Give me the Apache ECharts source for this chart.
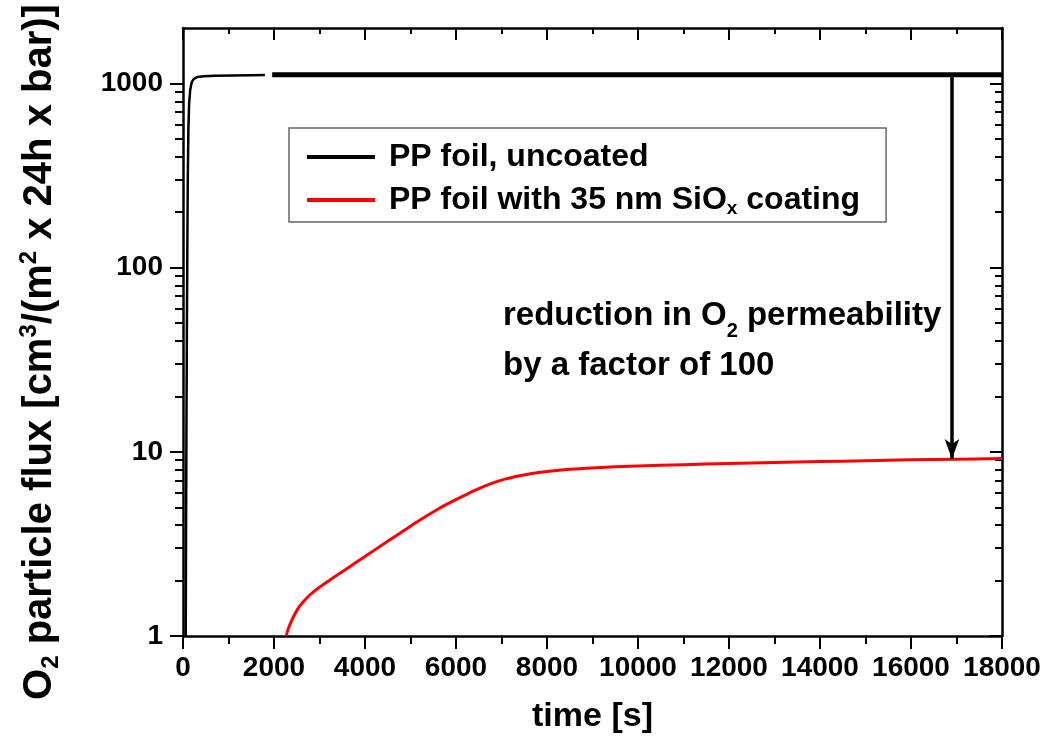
<!DOCTYPE html>
<html><head><meta charset="utf-8">
<script src="https://cdn.jsdelivr.net/npm/echarts@6/dist/echarts.min.js"></script>
<style>html,body{margin:0;padding:0;background:#fff}#c{width:1048px;height:746px}</style>
</head><body><div id="c"></div>
<script>
// ---- data ----
const xRange = [0, 18000];
const xStep = 2000;
const yRange = [1, 2000];
const yMajorTicks = [1, 10, 100, 1000];
const yMinorTicks = [2,3,4,5,6,7,8,9,20,30,40,50,60,70,80,90,200,300,400,500,600,700,800,900];
const seriesNames = ['PP foil, uncoated', 'PP foil with 35 nm SiOx coating'];
const uncoatedStart = [[60,1.0],[66,3],[75,12],[85,45],[95,120],[105,300],[118,560],[135,780],[160,930],[195,1020],[240,1060],[320,1085],[450,1095],[700,1100],[1100,1105],[1500,1108],[1800,1110]];
const uncoatedMain = [[1960,1115],[6000,1116],[10000,1116],[14000,1116],[18000,1116]];
const coated = [[2270,1.0],[2300,1.07],[2330,1.12],[2420,1.26],[2520,1.40],[2640,1.53],[2800,1.68],[3000,1.84],[3300,2.07],[3600,2.32],[4000,2.70],[4400,3.15],[4800,3.66],[5200,4.25],[5600,4.88],[5900,5.35],[6200,5.82],[6500,6.31],[6800,6.76],[7100,7.13],[7400,7.41],[7700,7.64],[8000,7.82],[8500,8.04],[9000,8.18],[10000,8.38],[11000,8.52],[12000,8.64],[13000,8.75],[14000,8.85],[15000,8.95],[16000,9.05],[17000,9.12],[18000,9.2]];
const arrowX = 16900, arrowFrom = 1105, arrowTo = 9.15;
const annotation = 'reduction in O{sub|2} permeability\nby a factor of 100';
const yTitle = 'O{sub|2} particle flux [cm{sup|3}/(m{sup|2} x 24h x bar)]';
const xTitle = 'time [s]';

// ---- chart ----
const FF = '"Liberation Sans", Arial, sans-serif';
const black = '#000';
const red = '#ff0000';
const chart = echarts.init(document.getElementById('c'), null, {renderer: 'canvas'});
const lbl = {color: black, fontFamily: FF, fontWeight: 'bold', fontSize: 28};
const axLine = {show: true, lineStyle: {color: black, width: 2.5}};
function xAx(pos) {
  const bottom = pos === 'bottom';
  return {
    type: 'value', position: pos, min: xRange[0], max: xRange[1], interval: xStep,
    axisLine: axLine,
    axisTick: {show: true, inside: !bottom, length: bottom ? 13 : 12, lineStyle: {color: black, width: 2}},
    minorTick: {show: true, splitNumber: 2, length: bottom ? 8 : 6, lineStyle: {color: black, width: 2}},
    axisLabel: bottom ? Object.assign({margin: 18, formatter: v => String(v)}, lbl) : {show: false},
    splitLine: {show: false}, minorSplitLine: {show: false},
    name: bottom ? xTitle : '', nameLocation: 'middle', nameGap: 64,
    nameTextStyle: {color: black, fontFamily: FF, fontWeight: 'bold', fontSize: 34}
  };
}
function yAx(pos, major) {
  const left = pos === 'left';
  return {
    type: 'log', logBase: 10, position: pos, min: yRange[0], max: yRange[1],
    axisLine: major ? axLine : {show: false},
    axisTick: {show: true, inside: !left, length: major ? (left ? 13 : 12) : (left ? 8 : 7),
      customValues: major ? yMajorTicks : yMinorTicks, lineStyle: {color: black, width: 2}},
    axisLabel: (left && major) ? Object.assign({margin: 20, customValues: yMajorTicks, formatter: v => String(v)}, lbl) : {show: false},
    splitLine: {show: false}
  };
}
chart.setOption({
  animation: false,
  backgroundColor: '#fff',
  grid: {left: 183, right: 46, top: 28, bottom: 110, containLabel: false, outerBoundsMode: 'none'},
  xAxis: [xAx('bottom'), xAx('top')],
  yAxis: [yAx('left', true), yAx('left', false), yAx('right', true), yAx('right', false)],
  legend: {
    data: [{name: seriesNames[0], icon: 'rect', itemStyle: {color: black}},
           {name: seriesNames[1], icon: 'rect', itemStyle: {color: red}}],
    orient: 'vertical', left: 289, top: 128, itemWidth: 68, itemHeight: 4, itemGap: 7,
    padding: [11, 26, 4, 18], borderColor: '#666', borderWidth: 1.5, backgroundColor: '#fff',
    selectedMode: false,
    formatter: n => n.replace('SiOx', 'SiO{sub|x}'),
    textStyle: {color: black, fontFamily: FF, fontWeight: 'bold', fontSize: 32, lineHeight: 36, padding: [0, 0, 0, 9],
      rich: {sub: {color: black, fontFamily: FF, fontWeight: 'bold', fontSize: 19, lineHeight: 12, verticalAlign: 'bottom'}}}
  },
  series: [
    {name: seriesNames[0], type: 'line', data: uncoatedStart, showSymbol: false, symbol: 'none',
     lineStyle: {color: black, width: 2.5}, itemStyle: {color: black}, clip: true, z: 3},
    {name: seriesNames[0], type: 'line', data: uncoatedMain, showSymbol: false, symbol: 'none',
     lineStyle: {color: black, width: 5}, itemStyle: {color: black}, clip: true, z: 3},
    {name: seriesNames[1], type: 'line', data: coated, showSymbol: false, symbol: 'none', smooth: 0.3,
     lineStyle: {color: red, width: 3}, itemStyle: {color: red}, clip: true, z: 3,
     markLine: {silent: true, symbol: ['none', 'arrow'], symbolSize: [11, 20], animation: false,
       lineStyle: {color: black, width: 3.5, type: 'solid'}, label: {show: false},
       data: [[{coord: [arrowX, arrowFrom]}, {coord: [arrowX, arrowTo]}]]}}
  ],
  graphic: [
    {type: 'text', x: 503, y: 291, z: 10,
     style: {text: annotation, fill: black, fontFamily: FF, fontWeight: 'bold', fontSize: 33, lineHeight: 50,
       verticalAlign: 'top', align: 'left',
       rich: {sub: {fill: black, fontFamily: FF, fontWeight: 'bold', fontSize: 20, lineHeight: 22, verticalAlign: 'bottom'}}}},
    {type: 'text', x: 40, y: 352, rotation: Math.PI / 2, z: 10,
     style: {text: yTitle, fill: black, fontFamily: FF, fontWeight: 'bold', fontSize: 40, lineHeight: 46,
       align: 'center', verticalAlign: 'middle',
       rich: {sub: {fill: black, fontFamily: FF, fontWeight: 'bold', fontSize: 24, lineHeight: 22, verticalAlign: 'bottom'},
              sup: {fill: black, fontFamily: FF, fontWeight: 'bold', fontSize: 24, lineHeight: 18, verticalAlign: 'top'}}}}
  ]
});
</script></body></html>
